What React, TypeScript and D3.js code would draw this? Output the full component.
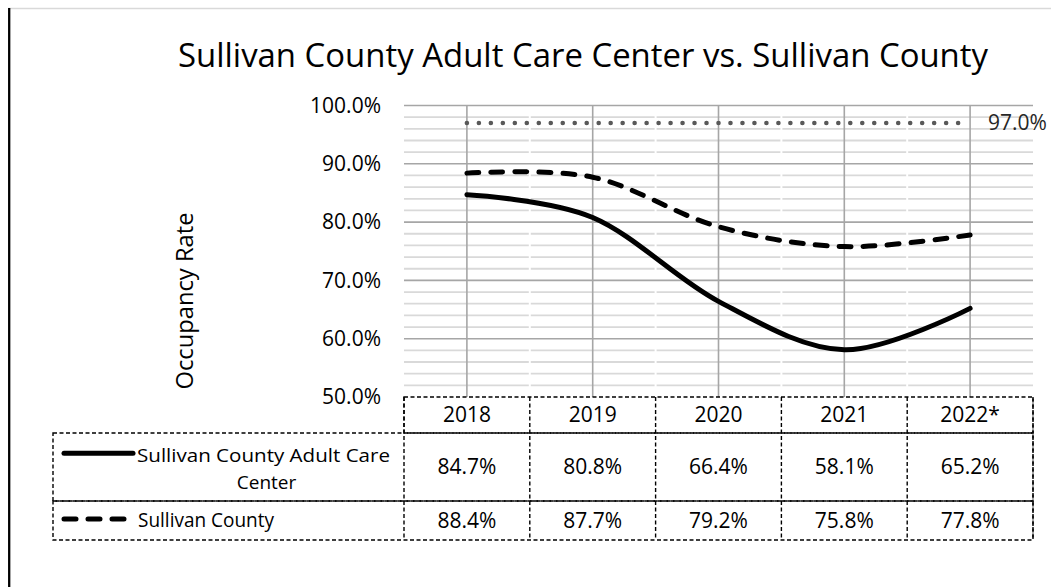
import React from 'react';
import * as d3 from 'd3';

// chart values
const years = ['2018', '2019', '2020', '2021', '2022*'];
const careCenter = [84.7, 80.8, 66.4, 58.1, 65.2];
const county = [88.4, 87.7, 79.2, 75.8, 77.8];
const target = 97.0;
const yTicks = [50, 60, 70, 80, 90, 100];
const seriesNames = ['Sullivan County Adult Care Center', 'Sullivan County'];

const W = 1051, H = 587;
const FONT = '"Open Sans", sans-serif';
const FS = 21;

export default function App() {
  // plot area
  const left = 404, right = 1033, top = 105.5, bottom = 397;
  const x = d3.scaleBand<string>().domain(years).range([left, right]);
  const y = d3.scaleLinear().domain([50, 100]).range([bottom, top]);
  const cx = (d: string) => (x(d) as number) + x.bandwidth() / 2;

  const minor = y.ticks(25).filter(t => t % 10 !== 0);

  const line = d3.line<number>()
    .x((_, i) => cx(years[i]))
    .y(d => y(d))
    .curve(d3.curveCatmullRom.alpha(0));

  // dotted target line, gap chosen so the last dot sits on the last year
  const tx0 = cx(years[0]), tx1 = cx(years[years.length - 1]);
  const dotGap = (tx1 - tx0) / 42;

  // table rows
  const rowHead = [397, 433];
  const row1 = [433, 501];
  const row2 = [501, 540];
  const tableLeft = 53;
  const edges = years.map(d => x(d) as number).concat([right]);

  const dash = '4 2.5';
  const tStroke = { stroke: '#000', strokeWidth: 1.4, strokeDasharray: dash, fill: 'none' };

  return (
    <svg width={W} height={H} style={{ position: 'absolute', left: 0, top: 0, background: '#fff' }}>
      {/* outer frame */}
      <line x1={8} x2={W} y1={8.5} y2={8.5} stroke="#d9d9d9" strokeWidth={1.5} />
      <line x1={9.2} x2={9.2} y1={8} y2={H} stroke="#000" strokeWidth={2.3} />

      {/* title */}
      <text x={178} y={66.7} fontFamily={FONT} fontSize={32} fill="#000"
        textLength={810} lengthAdjust="spacingAndGlyphs">
        Sullivan County Adult Care Center  vs. Sullivan County
      </text>

      {/* minor gridlines */}
      {minor.map(t => (
        <line key={'m' + t} x1={left} x2={right} y1={y(t)} y2={y(t)} stroke="#d9d9d9" strokeWidth={1.8} />
      ))}
      {edges.slice(1, -1).map((e, i) => (
        <line key={'g' + i} x1={e} x2={e} y1={top + 2} y2={bottom} stroke="#fff" strokeWidth={2} />
      ))}
      {/* major gridlines */}
      {yTicks.slice(1).map(t => (
        <line key={'M' + t} x1={left} x2={right} y1={y(t)} y2={y(t)} stroke="#a6a6a6" strokeWidth={1.6} />
      ))}
      {years.map(d => (
        <line key={'v' + d} x1={cx(d)} x2={cx(d)} y1={top} y2={bottom} stroke="#a6a6a6" strokeWidth={1.6} />
      ))}

      {/* y tick labels */}
      {yTicks.map(t => (
        <text key={'yt' + t} x={381} y={y(t)} dy="0.35em" textAnchor="end"
          fontFamily={FONT} fontSize={FS} fill="#000">
          {d3.format('.1f')(t) + '%'}
        </text>
      ))}

      {/* y axis title */}
      <text transform="translate(185,301) rotate(-90)" textAnchor="middle" dy="0.35em"
        fontFamily={FONT} fontSize={23} fill="#000" textLength={177} lengthAdjust="spacingAndGlyphs">
        Occupancy Rate
      </text>

      {/* target line */}
      <line x1={tx0} x2={tx1} y1={y(target)} y2={y(target)} stroke="#595959" strokeWidth={4.6}
        strokeLinecap="round" strokeDasharray={`0 ${dotGap}`} />
      <text x={988} y={y(target)} dy="0.35em" fontFamily={FONT} fontSize={FS} fill="#262626">
        {target.toFixed(1) + '%'}
      </text>

      {/* series */}
      <path d={line(county) as string} fill="none" stroke="#000" strokeWidth={5}
        strokeLinecap="round" strokeDasharray="12 12" />
      <path d={line(careCenter) as string} fill="none" stroke="#000" strokeWidth={5}
        strokeLinecap="round" />

      {/* data table */}
      <rect x={left} y={rowHead[0]} width={right - left} height={rowHead[1] - rowHead[0]} {...tStroke} />
      <rect x={tableLeft} y={row1[0]} width={right - tableLeft} height={row1[1] - row1[0]} {...tStroke} />
      <rect x={tableLeft} y={row2[0]} width={right - tableLeft} height={row2[1] - row2[0]} {...tStroke} />
      {edges.map((e, i) => (
        <line key={'te' + i} x1={e} x2={e} y1={rowHead[0]} y2={row2[1]} {...tStroke} />
      ))}

      {years.map(d => (
        <text key={'h' + d} x={cx(d)} y={(rowHead[0] + rowHead[1]) / 2} dy="0.35em" textAnchor="middle"
          fontFamily={FONT} fontSize={FS} fill="#000">{d}</text>
      ))}
      {careCenter.map((v, i) => (
        <text key={'c' + i} x={cx(years[i])} y={(row1[0] + row1[1]) / 2} dy="0.35em" textAnchor="middle"
          fontFamily={FONT} fontSize={FS} fill="#000">{v.toFixed(1) + '%'}</text>
      ))}
      {county.map((v, i) => (
        <text key={'s' + i} x={cx(years[i])} y={(row2[0] + row2[1]) / 2} dy="0.35em" textAnchor="middle"
          fontFamily={FONT} fontSize={FS} fill="#000">{v.toFixed(1) + '%'}</text>
      ))}

      {/* legend keys in table */}
      <line x1={64} x2={133} y1={453.3} y2={453.3} stroke="#000" strokeWidth={5} strokeLinecap="round" />
      <text x={137} y={461.5} fontFamily={FONT} fontSize={19} fill="#000"
        textLength={253} lengthAdjust="spacingAndGlyphs">Sullivan County Adult Care</text>
      <text x={266.5} y={488.8} textAnchor="middle" fontFamily={FONT} fontSize={19} fill="#000">Center</text>

      <line x1={64} x2={127} y1={519} y2={519} stroke="#000" strokeWidth={5} strokeLinecap="round"
        strokeDasharray="12 12" />
      <text x={138} y={526.7} fontFamily={FONT} fontSize={20} fill="#000"
        textLength={136} lengthAdjust="spacingAndGlyphs">{seriesNames[1]}</text>
    </svg>
  );
}
